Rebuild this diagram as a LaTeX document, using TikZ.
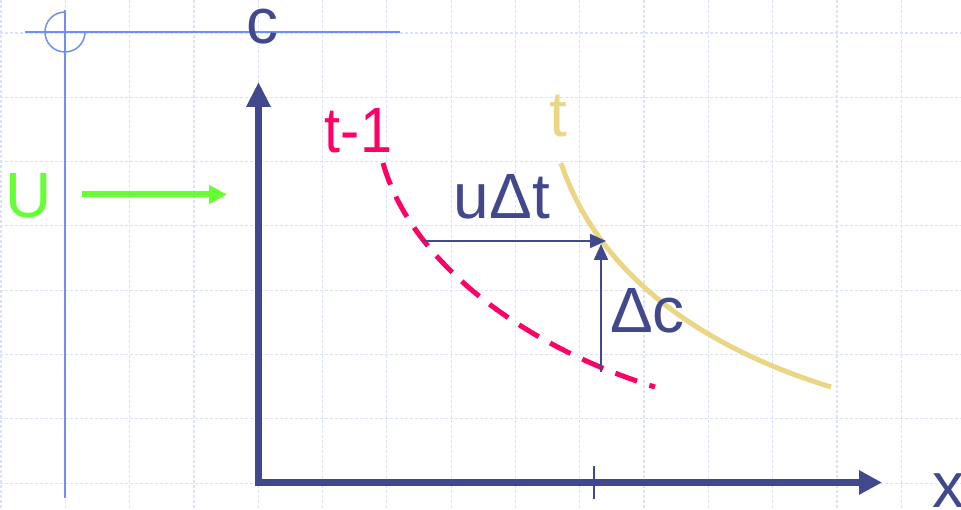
\documentclass[tikz,border=0pt]{standalone}
\usepackage{fontspec}
\setmainfont{Liberation Sans}
\usetikzlibrary{arrows.meta}
\definecolor{navy}{RGB}{66,72,140}
\definecolor{paleblue}{RGB}{112,142,245}
\definecolor{gridblue}{RGB}{218,226,250}
\definecolor{limegreen}{RGB}{102,255,51}
\definecolor{hotpink}{RGB}{255,0,102}
\definecolor{sand}{RGB}{234,214,132}
\begin{document}
\begin{tikzpicture}[x=1pt, y=-1pt,
    lbl/.style={font=\fontsize{64}{64}\selectfont, inner sep=0pt},
    gridline/.style={gridblue, line width=1.2pt, dash pattern=on 3pt off 2pt},
    thin/.style={paleblue, line width=1.5pt},
    axis/.style={navy, line width=7pt, line join=miter,
      {Triangle[length=25pt,width=23pt]}-{Triangle[length=23pt,width=23pt]}},
    step arrow/.style={navy, line width=2pt, -{Triangle[length=16pt,width=14pt]}}]
  \useasboundingbox (0,0) rectangle (961,510);
  \fill[white] (0,0) rectangle (961,510);
  \foreach \k in {0,...,14}{
    \draw[gridline] ({1+64.3*\k},0) -- ({1+64.3*\k},510);
  }
  \foreach \k in {0,...,7}{
    \draw[gridline] (0,{33+64.3*\k}) -- (961,{33+64.3*\k});
  }
  \draw[thin] (25,32) -- (400,32);
  \draw[thin] (65,10) -- (65,498);
  \draw[thin] (65,12) arc[start angle=270, end angle=0, radius=20];
  \coordinate (O) at (258.5,482.5);
  \coordinate (ctop) at (258.5,82);
  \coordinate (xtip) at (882,482.5);
  \draw[axis] (ctop) -- (O) -- (xtip);
  \coordinate (tickhi) at (594,466);
  \coordinate (ticklo) at (594,499);
  \draw[navy, line width=1.5pt] (tickhi) -- (ticklo);
  \node[lbl, text=navy] (clbl) at (262.5,27) {c};
  \node[lbl, text=navy, anchor=north west] (xlbl) at (932,473) {x};
  \node[lbl, text=limegreen] (ulbl) at (29,196) {U};
  \coordinate (ustart) at (82,194.5);
  \coordinate (uend) at (227,194.5);
  \draw[limegreen, line width=6pt, -{Triangle[length=18pt,width=18pt]}] (ustart) -- (uend);
  \coordinate (prevtop) at (383,163);
  \coordinate (prevend) at (655,387);
  \draw[hotpink, line width=5pt, dash pattern=on 23pt off 13pt]
    (prevtop) .. controls (410,260) and (520,345) .. (prevend);
  \coordinate (nowtop) at (561,163);
  \coordinate (nowend) at (831,387);
  \draw[sand, line width=5pt]
    (nowtop) .. controls (595,265) and (688,343) .. (nowend);
  \node[lbl, text=hotpink, xscale=0.9] (tprev) at (358.5,130.5) {t-1};
  \node[lbl, text=sand] (tnow) at (558.5,116.5) {t};
  \coordinate (shiftfrom) at (423,241);
  \coordinate (shiftto) at (606,241);
  \coordinate (risefrom) at (601,372);
  \coordinate (riseto) at (601,244);
  \draw[step arrow] (shiftfrom) -- (shiftto);
  \draw[step arrow] (risefrom) -- (riseto);
  \node[lbl, text=navy] (udt) at (502,196.5) {uΔt};
  \node[lbl, text=navy] (dc) at (647.5,311) {Δc};
\end{tikzpicture}
\end{document}
